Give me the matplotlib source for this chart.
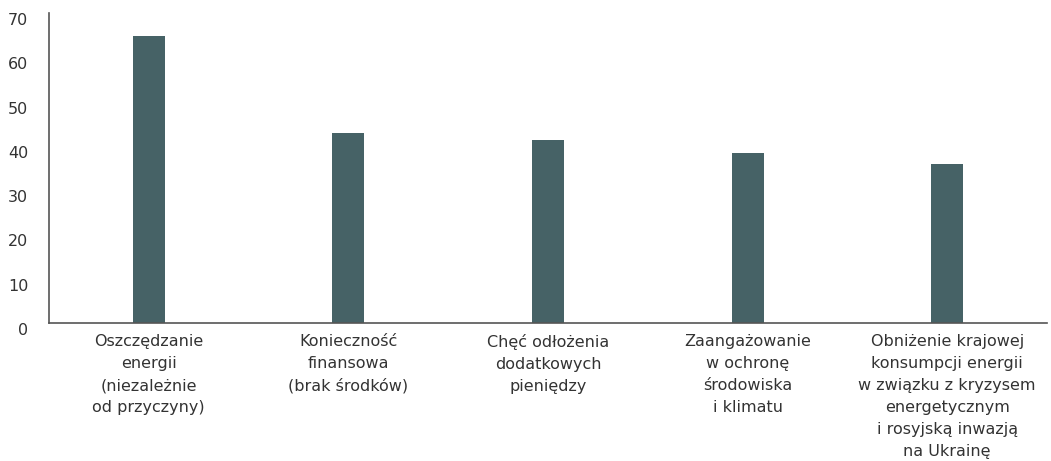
import matplotlib
matplotlib.use("Agg")
import matplotlib.pyplot as plt

# kategorie i wartości (%)
categories = [
    "Oszczędzanie\nenergii\n(niezależnie\nod przyczyny)",
    "Konieczność\nfinansowa\n(brak środków)",
    "Chęć odłożenia\ndodatkowych\npieniędzy",
    "Zaangażowanie\nw ochronę\nśrodowiska\ni klimatu",
    "Obniżenie krajowej\nkonsumpcji energii\nw związku z kryzysem\nenergetycznym\ni rosyjską inwazją\nna Ukrainę",
]
values = [64.7, 42.9, 41.3, 38.5, 36]
yticks = [0, 10, 20, 30, 40, 50, 60, 70]

plt.rcParams['font.family'] = ['DejaVu Sans']

fig = plt.figure(figsize=(10.51, 4.61), dpi=100)
ax = fig.add_axes([49 / 1051, 1 - 323 / 461, (1047 - 49) / 1051, (323 - 13) / 461])

ax.bar(range(len(values)), values, width=0.16, color='#466266')

ax.set_xlim(-0.5, len(values) - 0.5)
ax.set_ylim(0, 70)
ax.set_yticks(yticks)
ax.set_xticks(range(len(categories)))
ax.set_xticklabels(categories, fontsize=11.5, color='#333333', linespacing=1.58)
ax.tick_params(axis='y', labelsize=11.5, colors='#333333', length=0, pad=15)
ax.tick_params(axis='x', length=0, pad=8)
for lbl in ax.get_yticklabels():
    lbl.set_verticalalignment('top')

for s in ['top', 'right']:
    ax.spines[s].set_visible(False)
for s in ['left', 'bottom']:
    ax.spines[s].set_color('#555555')
    ax.spines[s].set_linewidth(1.2)

fig.savefig("out.png", dpi=100)
